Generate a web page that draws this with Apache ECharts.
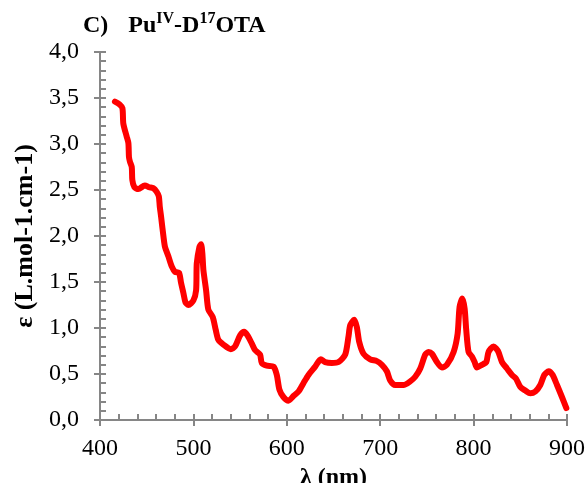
<!DOCTYPE html>
<html><head><meta charset="utf-8">
<script src="https://cdn.jsdelivr.net/npm/echarts@6/dist/echarts.min.js"></script>
<style>html,body{margin:0;padding:0;background:#fff}#c{width:588px;height:483px}</style>
</head><body><div id="c"></div>
<script>
const wavelength = [416,421,424,425,428.6,430.4,431,432,434,434.6,436.8,441,448,452.5,457,460.7,463,464,465.4,468,469.6,473.2,476.8,480.4,484.6,486.8,489.3,491.5,494.6,500,502.9,503.6,506.4,508.2,509.6,510.7,513.6,516,520.7,523.9,526.8,532.1,540,544.6,550,554.3,557.9,562.6,566,571.4,573.2,578.6,585.7,589.3,592.1,596.4,601.8,607.1,612.5,617.8,623.2,630.4,636.4,641,648.2,655.4,662.5,666.1,667.9,672.2,675,677.5,682.1,689.3,696.4,701.8,707.1,710.7,716,725,732.1,737.5,742.9,748.2,751.8,755.4,760.7,766.1,771.4,778.6,782.9,785,787.9,790.4,792.1,794.6,798.2,801.1,803.6,808.9,813.6,816,821.4,826.1,830.4,835.7,841.1,845.4,850,855.4,860.7,866.1,871.4,875.7,880.4,884.6,889.3,894.6,899.3];
const epsilon = [3.46,3.43,3.39,3.22,3.08,3.01,2.86,2.81,2.75,2.61,2.53,2.51,2.55,2.53,2.52,2.48,2.43,2.32,2.21,1.99,1.88,1.78,1.67,1.61,1.60,1.49,1.38,1.28,1.25,1.30,1.41,1.70,1.88,1.91,1.81,1.63,1.41,1.20,1.12,0.98,0.87,0.82,0.77,0.80,0.92,0.96,0.92,0.83,0.76,0.71,0.62,0.59,0.58,0.49,0.33,0.25,0.21,0.26,0.31,0.40,0.49,0.58,0.66,0.63,0.62,0.63,0.71,0.91,1.03,1.09,1.01,0.85,0.72,0.66,0.64,0.60,0.53,0.43,0.38,0.38,0.42,0.47,0.56,0.71,0.74,0.72,0.63,0.57,0.60,0.74,0.94,1.23,1.32,1.21,0.98,0.74,0.69,0.63,0.57,0.60,0.63,0.74,0.80,0.75,0.63,0.56,0.49,0.45,0.36,0.32,0.29,0.31,0.38,0.49,0.53,0.49,0.38,0.25,0.13];
const xTicks = {min: 400, max: 900, step: 100};
const yTicks = {min: 0, max: 4, step: 0.5};

const FONT = "'Liberation Serif','Times New Roman',serif";
const AX = '#868686';
const data = wavelength.map((w, i) => [w, epsilon[i]]);
const fmt = v => v.toFixed(1).replace('.', ',');
const chart = echarts.init(document.getElementById('c'), null, {renderer: 'canvas'});
chart.setOption({
  animation: false,
  backgroundColor: '#fff',
  title: {
    text: '{a|C)}    {b|Pu}{s|IV}{b|-D}{s|17}{b|OTA}',
    left: 83, top: 11, padding: 0,
    textStyle: {
      rich: {
        a: {fontFamily: FONT, fontWeight: 'bold', fontSize: 24, color: '#000', lineHeight: 27, verticalAlign: 'bottom'},
        b: {fontFamily: FONT, fontWeight: 'bold', fontSize: 24, color: '#000', lineHeight: 27, verticalAlign: 'bottom'},
        s: {fontFamily: FONT, fontWeight: 'bold', fontSize: 16, color: '#000', lineHeight: 16, verticalAlign: 'top'}
      }
    }
  },
  grid: {left: 100, right: 21, top: 52, bottom: 63, containLabel: false, outerBoundsMode: 'none'},
  xAxis: [{
    type: 'value', min: xTicks.min, max: xTicks.max, interval: xTicks.step,
    axisLine: {show: true, lineStyle: {color: AX, width: 2}},
    axisTick: {show: true, inside: false, length: 6, lineStyle: {color: AX, width: 2}},
    minorTick: {show: false},
    splitLine: {show: false},
    axisLabel: {fontFamily: FONT, fontSize: 24, color: '#000', margin: 17},
    name: 'λ (nm)', nameLocation: 'middle', nameGap: 40,
    nameTextStyle: {fontFamily: FONT, fontWeight: 'bold', fontSize: 24, color: '#000'}
  }, {
    type: 'value', position: 'bottom', min: xTicks.min, max: xTicks.max, interval: xTicks.step,
    axisLine: {show: false},
    axisTick: {show: true, inside: true, length: 6, lineStyle: {color: AX, width: 2}},
    minorTick: {show: true, splitNumber: 5, length: 6, lineStyle: {color: AX, width: 2}},
    splitLine: {show: false}, axisLabel: {show: false}
  }],
  yAxis: [{
    type: 'value', min: yTicks.min, max: yTicks.max, interval: yTicks.step,
    axisLine: {show: true, lineStyle: {color: AX, width: 2}},
    axisTick: {show: true, inside: false, length: 6, lineStyle: {color: AX, width: 2}},
    minorTick: {show: false},
    splitLine: {show: false},
    axisLabel: {fontFamily: FONT, fontSize: 24, color: '#000', margin: 21, formatter: fmt},
    name: 'ε (L.mol-1.cm-1)', nameLocation: 'middle', nameGap: 62, nameRotate: 90,
    nameTextStyle: {fontFamily: FONT, fontWeight: 'bold', fontSize: 26, color: '#000'}
  }, {
    type: 'value', position: 'left', min: yTicks.min, max: yTicks.max, interval: yTicks.step,
    axisLine: {show: false},
    axisTick: {show: true, inside: true, length: 6, lineStyle: {color: AX, width: 2}},
    minorTick: {show: true, splitNumber: 5, length: 6, lineStyle: {color: AX, width: 2}},
    splitLine: {show: false}, axisLabel: {show: false}
  }],
  series: [{
    type: 'line', data: data, xAxisIndex: 0, yAxisIndex: 0,
    showSymbol: false, symbol: 'none', smooth: 0.25,
    lineStyle: {color: '#ff0000', width: 6, cap: 'round', join: 'round'},
    z: 5
  }]
});
</script></body></html>
